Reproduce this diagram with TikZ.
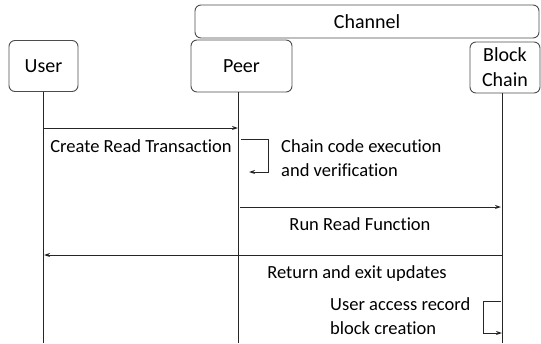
\documentclass[tikz,border=0pt]{standalone}
\usepackage{fontspec}
\setmainfont{Carlito}[Ligatures=NoCommon]
\usetikzlibrary{arrows.meta}
\begin{document}
\begin{tikzpicture}[x=1pt,y=-1pt,
  actor/.style={draw=black!70,rounded corners=6pt,line width=0.9pt,inner sep=0pt,
    font=\fontsize{20}{22}\selectfont,align=center},
  life/.style={line width=1pt,black!85},
  msg/.style={line width=1pt,black!85,-{Stealth[length=6pt,width=4pt]}},
  lbl/.style={font=\fontsize{18.5}{24}\selectfont,inner sep=0pt,align=left}]
\useasboundingbox (0,0) rectangle (541,343);

% participants and the channel band
\node[actor,minimum width=344,minimum height=33] (channel) at (367,21.5) {Channel};
\node[actor,minimum width=69,minimum height=51] (user) at (43.5,66) {User};
\node[actor,minimum width=101,minimum height=52] (peer) at (241.5,66) {Peer};
\node[actor,minimum width=70,minimum height=51,font=\fontsize{20}{25}\selectfont] (chain) at (505,67.5) {Block\\Chain};

% lifelines
\coordinate (userend) at (43,343);
\coordinate (peerend) at (238,343);
\coordinate (chainend) at (502,343);
\draw[life] (user.south -| userend) -- (userend);
\draw[life] (peer.south -| peerend) -- (peerend);
\draw[life] (chain.south -| chainend) -- (chainend);

% message anchor points on the lifelines
\coordinate (u1) at (43,128);  \coordinate (p1) at (238,128);
\coordinate (p2) at (240,207); \coordinate (c2) at (501,207);
\coordinate (c3) at (502,255); \coordinate (u3) at (44,255);
\coordinate (p4) at (241,139); \coordinate (p5) at (249,172);
\coordinate (c6) at (501,301); \coordinate (c7) at (502,333);

% messages
\draw[msg] (u1) -- (p1);
\draw[msg] (p2) -- (c2);
\draw[msg] (c3) -- (u3);

% self calls
\draw[msg] (p4) -- (268,139) -- (268,172) -- (p5);
\draw[msg] (c6) -- (483,301) -- (483,333) -- (c7);

% labels
\node[lbl] (t1) at (141,146) {Create Read Transaction};
\node[lbl,anchor=west] (t2) at (281,158) {Chain code execution\\and verification};
\node[lbl] (t3) at (360,224) {Run Read Function};
\node[lbl] (t4) at (357,274) {Return and exit updates};
\node[lbl,anchor=west] (t5) at (330,316) {User access record\\block creation};
\end{tikzpicture}
\end{document}
